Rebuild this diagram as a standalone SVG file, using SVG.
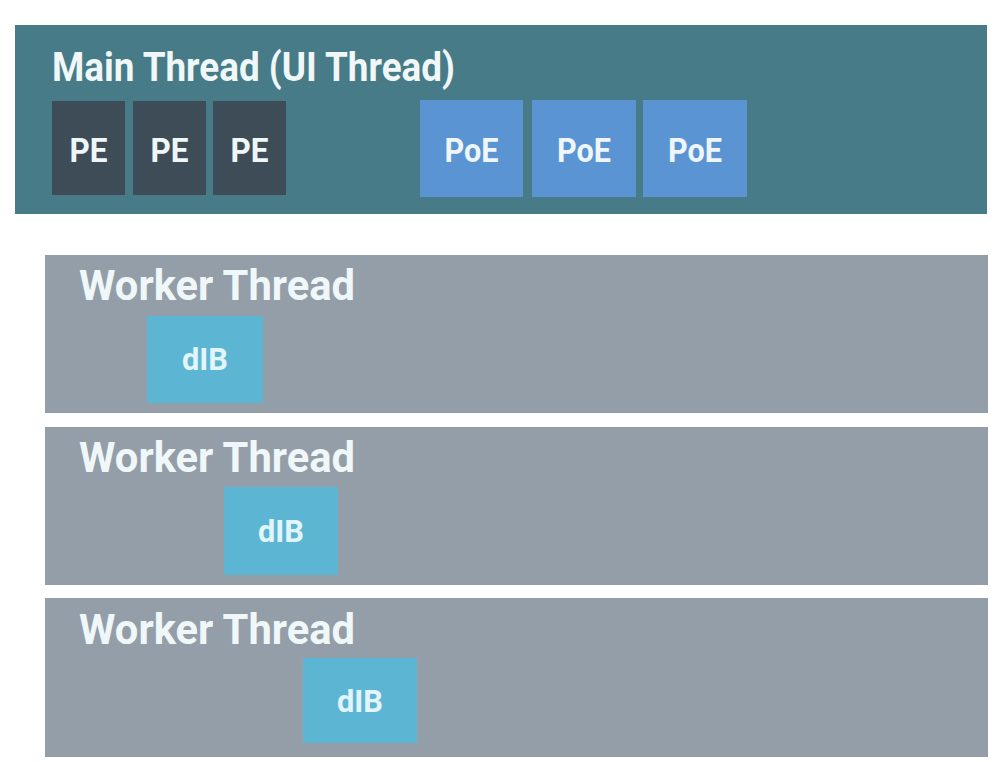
<svg xmlns="http://www.w3.org/2000/svg" width="1006" height="762" viewBox="0 0 1006 762">
<style>
.bg{fill:#ffffff}
.main{fill:#467b87}
.worker{fill:#939ea8}
.pe{fill:#3e4c58}
.poe{fill:#5b94d2}
.dib{fill:#5cb5d3}
.title{font-family:Roboto,"Liberation Sans",sans-serif;font-weight:bold;fill:#f0f7f9}
.lbl{font-family:Roboto,"Liberation Sans",sans-serif;font-weight:bold;fill:#eef6f8;text-anchor:middle}
.dl{fill:#e2f5fb}
</style>
<rect class="bg" x="0" y="0" width="1006" height="762"/>
<g id="main-thread">
<rect class="main" x="15" y="25" width="972" height="189"/>
<text class="title" x="52" y="81" font-size="40" textLength="403" lengthAdjust="spacingAndGlyphs">Main Thread (UI Thread)</text>
</g>
<g id="pe1"><rect class="pe" x="52" y="101" width="73" height="94"/><text class="lbl" x="88.5" y="162" font-size="33" textLength="38" lengthAdjust="spacingAndGlyphs">PE</text></g>
<g id="pe2"><rect class="pe" x="133" y="101" width="73" height="94"/><text class="lbl" x="169.5" y="162" font-size="33" textLength="38" lengthAdjust="spacingAndGlyphs">PE</text></g>
<g id="pe3"><rect class="pe" x="213" y="101" width="73" height="94"/><text class="lbl" x="249.5" y="162" font-size="33" textLength="38" lengthAdjust="spacingAndGlyphs">PE</text></g>
<g id="poe1"><rect class="poe" x="420" y="100" width="103" height="97"/><text class="lbl" x="471.5" y="162" font-size="33" textLength="54" lengthAdjust="spacingAndGlyphs">PoE</text></g>
<g id="poe2"><rect class="poe" x="532" y="100" width="104" height="97"/><text class="lbl" x="584" y="162" font-size="33" textLength="54" lengthAdjust="spacingAndGlyphs">PoE</text></g>
<g id="poe3"><rect class="poe" x="643" y="100" width="104" height="97"/><text class="lbl" x="695" y="162" font-size="33" textLength="54" lengthAdjust="spacingAndGlyphs">PoE</text></g>
<g id="worker1">
<rect class="worker" x="45" y="255" width="943" height="158"/>
<text class="title" x="79" y="300" font-size="42" textLength="276" lengthAdjust="spacingAndGlyphs">Worker Thread</text>
</g>
<g id="dib1"><rect class="dib" x="147" y="316" width="116" height="87"/><text class="lbl dl" x="205" y="370" font-size="31" textLength="46" lengthAdjust="spacingAndGlyphs">dIB</text></g>
<g id="worker2">
<rect class="worker" x="45" y="427" width="943" height="158"/>
<text class="title" x="79" y="472" font-size="42" textLength="276" lengthAdjust="spacingAndGlyphs">Worker Thread</text>
</g>
<g id="dib2"><rect class="dib" x="224" y="487" width="114" height="88"/><text class="lbl dl" x="281" y="542" font-size="31" textLength="46" lengthAdjust="spacingAndGlyphs">dIB</text></g>
<g id="worker3">
<rect class="worker" x="45" y="598" width="943" height="159"/>
<text class="title" x="79" y="644" font-size="42" textLength="276" lengthAdjust="spacingAndGlyphs">Worker Thread</text>
</g>
<g id="dib3"><rect class="dib" x="303" y="658" width="114" height="85"/><text class="lbl dl" x="360" y="712" font-size="31" textLength="46" lengthAdjust="spacingAndGlyphs">dIB</text></g>
<g id="connectors"></g>
</svg>
